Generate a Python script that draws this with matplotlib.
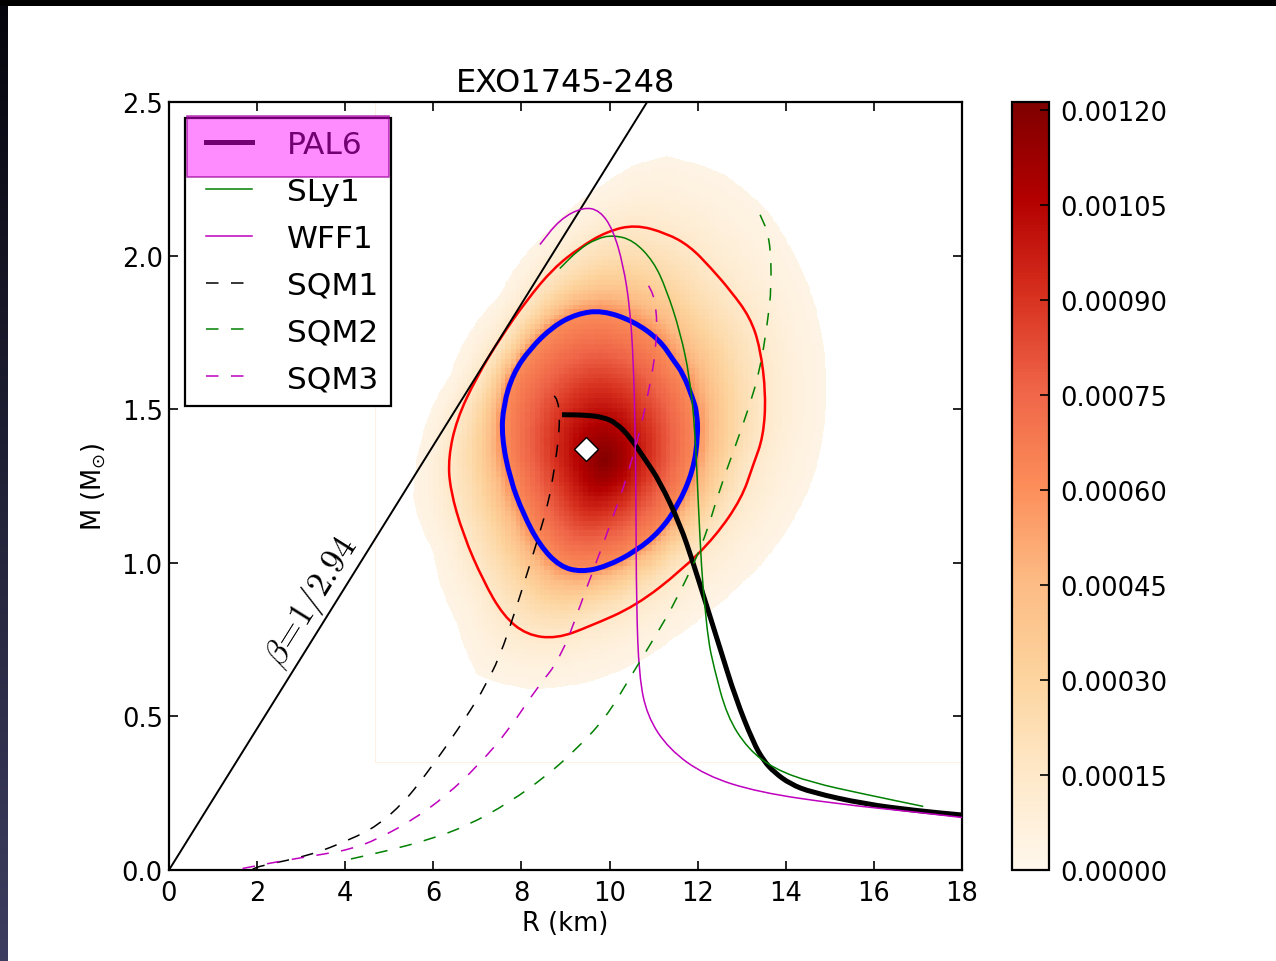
import numpy as np
import matplotlib
matplotlib.use("Agg")
import matplotlib.pyplot as plt
from matplotlib.patches import Rectangle, PathPatch
from matplotlib.path import Path
from matplotlib.legend_handler import HandlerLine2D
from matplotlib.ticker import FormatStrFormatter

plt.rcParams['font.family'] = ['DejaVu Sans']
plt.rcParams['lines.scale_dashes'] = False

# ---------------- data ----------------
TITLE = "EXO1745-248"
X_TICKS = [0, 2, 4, 6, 8, 10, 12, 14, 16, 18]
Y_TICKS = [0.0, 0.5, 1.0, 1.5, 2.0, 2.5]
CBAR_TICKS = [0.0, 0.00015, 0.00030, 0.00045, 0.00060, 0.00075, 0.00090, 0.00105, 0.00120]
CBAR_MAX = 0.001213

# EOS mass-radius curves (R in km, M in Msun)
PAL6_R = [8.92, 9.45, 9.86, 10.15, 10.46, 10.8, 11.14, 11.6, 11.9, 12.2, 12.52, 12.86, 13.26, 13.5, 13.74, 14.1, 14.58, 15.78, 16.98, 18.0]
PAL6_M = [1.482, 1.481, 1.474, 1.455, 1.41, 1.338, 1.265, 1.125, 0.999, 0.862, 0.716, 0.56, 0.416, 0.355, 0.318, 0.28, 0.253, 0.215, 0.193, 0.179]

SLY1_R = [8.87, 9.3, 9.7, 10.08, 10.54, 11.0, 11.29, 11.6, 11.82, 11.94, 12.01, 12.09, 12.15, 12.24, 12.36, 12.66, 13.14, 13.74, 14.58, 15.78, 17.12]
SLY1_M = [1.958, 2.02, 2.055, 2.067, 2.05, 1.981, 1.89, 1.753, 1.605, 1.433, 1.205, 0.976, 0.88, 0.748, 0.665, 0.502, 0.394, 0.329, 0.285, 0.247, 0.207]

WFF1_R = [8.42, 8.87, 9.4, 9.78, 10.08, 10.31, 10.46, 10.54, 10.58, 10.6, 10.61, 10.67, 10.85, 11.34, 12.18, 13.38, 15.18, 16.98, 18.0]
WFF1_M = [2.036, 2.118, 2.158, 2.147, 2.084, 1.97, 1.833, 1.662, 1.433, 1.205, 0.862, 0.632, 0.502, 0.394, 0.307, 0.253, 0.215, 0.188, 0.171]

SQM1_R = [1.9, 2.09, 3.17, 4.13, 4.73, 5.33, 5.81, 6.41, 7.01, 7.17, 7.49, 7.9, 8.4, 8.62, 8.74, 8.84, 8.87, 8.82, 8.72]
SQM1_M = [0.003, 0.014, 0.046, 0.10, 0.144, 0.22, 0.307, 0.426, 0.557, 0.60, 0.687, 0.86, 1.09, 1.2, 1.3, 1.4, 1.48, 1.53, 1.547]

SQM2_R = [4.13, 4.97, 5.93, 6.77, 7.73, 8.57, 9.17, 9.9, 10.49, 11.09, 11.5, 12.12, 12.5, 12.83, 13.15, 13.41, 13.58, 13.68, 13.64, 13.41]
SQM2_M = [0.036, 0.063, 0.10, 0.144, 0.22, 0.307, 0.383, 0.492, 0.632, 0.773, 0.875, 1.06, 1.239, 1.37, 1.50, 1.624, 1.776, 1.9, 2.061, 2.135]

SQM3_R = [1.67, 2.57, 3.53, 4.13, 4.73, 5.57, 6.29, 7.01, 7.73, 8.33, 8.9, 9.48, 10.08, 10.54, 10.88, 11.07, 11.07, 10.92, 10.69]
SQM3_M = [0.005, 0.03, 0.052, 0.068, 0.10, 0.166, 0.242, 0.339, 0.459, 0.589, 0.69, 0.919, 1.148, 1.342, 1.547, 1.707, 1.833, 1.901, 1.93]

# confidence contours (closed curves)
BLUE_R = [9.82, 10.54, 11.14, 11.45, 11.67, 11.9, 11.98, 12.01, 11.9, 11.55, 11.14, 10.6, 9.93, 9.36, 8.87, 8.42, 8.04, 7.74, 7.55, 7.59, 7.81, 8.19, 8.72, 9.25]
BLUE_M = [1.822, 1.787, 1.725, 1.659, 1.616, 1.531, 1.49, 1.415, 1.30, 1.185, 1.102, 1.038, 0.988, 0.970, 0.988, 1.056, 1.159, 1.273, 1.410, 1.513, 1.616, 1.696, 1.770, 1.810]

RED_R = [9.93, 10.58, 11.29, 11.82, 12.3, 12.75, 13.19, 13.42, 13.55, 13.49, 13.26, 13.0, 12.4, 11.63, 10.6, 9.55, 8.80, 8.12, 7.59, 7.13, 6.68, 6.38, 6.34, 6.53, 6.98, 7.51, 8.12, 8.72, 9.33]
RED_M = [2.078, 2.101, 2.073, 2.031, 1.96, 1.885, 1.799, 1.70, 1.547, 1.41, 1.319, 1.21, 1.085, 0.975, 0.86, 0.793, 0.753, 0.765, 0.827, 0.942, 1.090, 1.239, 1.342, 1.467, 1.604, 1.730, 1.855, 1.958, 2.027]

# outer edge of the probability map
OUTER_R = [10.54, 11.30, 12.58, 13.56, 14.17, 14.62, 14.85, 14.92, 14.85, 14.62, 14.25, 13.72, 12.96, 12.2, 11.45, 10.5, 9.17, 8.15, 7.01, 6.53, 6.00, 5.55, 5.70, 6.38, 7.51, 8.65, 9.78]
OUTER_M = [2.29, 2.321, 2.263, 2.147, 2.007, 1.856, 1.705, 1.566, 1.426, 1.275, 1.159, 1.042, 0.926, 0.833, 0.752, 0.665, 0.60, 0.587, 0.632, 0.805, 1.034, 1.204, 1.377, 1.605, 1.867, 2.084, 2.221]

# probability density levels (peak, at blue contour, at red contour, at outer edge)
DENS_CENTER = (9.9, 1.33)
DENS_PEAK = 0.00119
DENS_BLUE = 0.00060
DENS_RED = 0.00014
DENS_OUTER = 0.00003
MAP_R0, MAP_M0 = 4.68, 0.35          # lower-left corner of the histogram map
CELL_R, CELL_M = 0.11, 0.016         # histogram cell size

BEST_R, BEST_M = 9.46, 1.37
BETA = 1 / 2.94
GM_C2 = 1.4766  # km per solar mass
BETA_R = [0.0, 12.0]

# ---------------- density map built from the read contours ----------------
K = 307.2 / 44.06  # screen aspect (M scale relative to R scale)


def polar(Rs, Ms):
    u = np.asarray(Rs, float) - DENS_CENTER[0]
    v = (np.asarray(Ms, float) - DENS_CENTER[1]) * K
    return np.arctan2(v, u), np.hypot(u, v)


def radius_of(Rs, Ms):
    th, r = polar(Rs, Ms)
    o = np.argsort(th)
    th, r = th[o], r[o]
    return lambda t: np.interp(t, th, r, period=2 * np.pi)


rb, rr, ro = radius_of(BLUE_R, BLUE_M), radius_of(RED_R, RED_M), radius_of(OUTER_R, OUTER_M)


def density(Rg, Mg):
    th, r = polar(Rg, Mg)
    r1, r2, r3 = rb(th), rr(th), ro(th)
    f = np.full(r.shape, np.nan)
    a = r <= r1
    f[a] = DENS_PEAK * (DENS_BLUE / DENS_PEAK) ** ((r[a] / r1[a]) ** 1.3)
    b = (r > r1) & (r <= r2)
    f[b] = DENS_BLUE * (DENS_RED / DENS_BLUE) ** ((r[b] - r1[b]) / (r2[b] - r1[b]))
    c = (r > r2) & (r <= r3)
    f[c] = DENS_RED * (DENS_OUTER / DENS_RED) ** ((r[c] - r2[c]) / (r3[c] - r2[c]))
    return f


fr_step, fm_step = 0.02, 0.003
Rf = MAP_R0 + (np.arange(int((18.2 - MAP_R0) / fr_step)) + 0.5) * fr_step
Mf = MAP_M0 + (np.arange(int((2.6 - MAP_M0) / fm_step)) + 0.5) * fm_step
RG, MG = np.meshgrid(Rf, Mf)
RS = MAP_R0 + (np.floor((RG - MAP_R0) / CELL_R) + 0.5) * CELL_R
MS = MAP_M0 + (np.floor((MG - MAP_M0) / CELL_M) + 0.5) * CELL_M
smooth = density(RG, MG)
img = density(RS, MS)
img = np.where(np.isnan(img), smooth, img)
img[np.isnan(smooth)] = np.nan


def smooth_path(xs, ys, closed=False):
    """Quadratic B-spline path with the read points as control points."""
    P = np.column_stack([xs, ys]).astype(float)
    if closed:
        mids = (P + np.roll(P, -1, axis=0)) / 2
        verts, codes = [mids[-1]], [Path.MOVETO]
        for i in range(len(P)):
            verts += [P[i], mids[i]]
            codes += [Path.CURVE3, Path.CURVE3]
    else:
        mids = (P[:-1] + P[1:]) / 2
        verts, codes = [P[0], mids[0]], [Path.MOVETO, Path.LINETO]
        for i in range(1, len(P) - 1):
            verts += [P[i], mids[i]]
            codes += [Path.CURVE3, Path.CURVE3]
        verts.append(P[-1])
        codes.append(Path.LINETO)
    return Path(np.array(verts), codes)


def draw_curve(ax, xs, ys, closed=False, label=None, **kw):
    ax.add_patch(PathPatch(smooth_path(xs, ys, closed), fill=False, capstyle='butt', **kw))
    if label is not None:
        ax.plot([], [], color=kw.get('edgecolor'), lw=kw.get('lw'),
                ls=kw.get('linestyle', '-'), label=label)


# ---------------- figure ----------------
W, H = 1276, 962
fig = plt.figure(figsize=(W / 100, H / 100), dpi=100)
ax = fig.add_axes([169 / W, 91 / H, 793 / W, 768 / H])
cax = fig.add_axes([1012 / W, 91 / H, 37 / W, 768 / H])

im = ax.imshow(img, origin='lower', cmap='OrRd', vmin=0, vmax=CBAR_MAX,
               extent=[MAP_R0, MAP_R0 + len(Rf) * fr_step, MAP_M0, MAP_M0 + len(Mf) * fm_step],
               aspect='auto', interpolation='nearest', zorder=0)
ax.add_patch(Rectangle((MAP_R0, MAP_M0), 20, 3, fill=False, ec='#fdf0e6', lw=0.8, zorder=0.5))

draw_curve(ax, BLUE_R, BLUE_M, closed=True, edgecolor='#0000ff', lw=3.6, zorder=3)
draw_curve(ax, RED_R, RED_M, closed=True, edgecolor='#ff0000', lw=1.8, zorder=3)

beta_M = np.array(BETA_R) * BETA / GM_C2
ax.plot(BETA_R, beta_M, color='black', lw=1.4, zorder=3)
ax.text(3.24, 0.875, r'$\beta\!=\!1/2.94$', math_fontfamily='cm', fontsize=25,
        rotation=58, rotation_mode='anchor', ha='center', va='center', zorder=4)

dash = (0, (9, 9))
draw_curve(ax, PAL6_R, PAL6_M, edgecolor='black', lw=3.6, label='PAL6', zorder=4)
draw_curve(ax, SLY1_R, SLY1_M, edgecolor='#008000', lw=1.1, label='SLy1', zorder=4)
draw_curve(ax, WFF1_R, WFF1_M, edgecolor='#bf00bf', lw=1.1, label='WFF1', zorder=4)
draw_curve(ax, SQM1_R, SQM1_M, edgecolor='black', lw=1.1, linestyle=dash, label='SQM1', zorder=4)
draw_curve(ax, SQM2_R, SQM2_M, edgecolor='#008000', lw=1.1, linestyle=dash, label='SQM2', zorder=4)
draw_curve(ax, SQM3_R, SQM3_M, edgecolor='#bf00bf', lw=1.1, linestyle=dash, label='SQM3', zorder=4)

ax.plot([BEST_R], [BEST_M], 'D', ms=12, mfc='white', mec='black', mew=1.0, zorder=5)

ax.set_xlim(0, 18)
ax.set_ylim(0, 2.5)
ax.set_xticks(X_TICKS)
ax.set_yticks(Y_TICKS)
ax.yaxis.set_major_formatter(FormatStrFormatter('%.1f'))
ax.tick_params(direction='in', length=6.4, width=1.2, top=True, right=True,
               labelsize=18.5, pad=4.5)
ax.tick_params(axis='x', pad=7)
for s in ax.spines.values():
    s.set_linewidth(1.6)
ax.set_xlabel('R (km)', fontsize=18.5, labelpad=3)
ax.set_ylabel(r'M (M$_{\odot}$)', fontsize=18.5, labelpad=10)
ax.set_title(TITLE, fontsize=23, pad=8)

leg = ax.legend(loc='upper left', fontsize=22.5, frameon=True, fancybox=False,
                borderaxespad=0.5, borderpad=0.4, labelspacing=0.57,
                handlelength=1.77, handletextpad=1.1,
                handler_map={matplotlib.lines.Line2D: HandlerLine2D(xpad=0.27)})
leg.get_frame().set_edgecolor('black')
leg.get_frame().set_linewidth(1.6)
leg.get_frame().set_alpha(1)

cb = fig.colorbar(im, cax=cax, ticks=CBAR_TICKS)
cb.ax.yaxis.set_major_formatter(FormatStrFormatter('%.5f'))
cb.ax.tick_params(direction='in', length=6.4, width=1.2, labelsize=18.5, pad=8)
cb.outline.set_linewidth(1.6)

# magenta highlight over the PAL6 legend entry
fig.add_artist(Rectangle((187 / W, 1 - 178 / H), 202 / W, 61 / H, transform=fig.transFigure,
                         facecolor=(1, 0, 1, 0.45), edgecolor=(0.6, 0, 0.6, 0.7), lw=1.2, zorder=20))

# dark slide border (top and left)
t = np.linspace(0, 1, H)[:, None]
left = np.concatenate([0.02 + 0.22 * t, 0.02 + 0.22 * t, 0.05 + 0.33 * t], axis=1)
left_band = np.repeat(left[:, None, :], 8, axis=1)
fig.figimage(left_band, xo=0, yo=0, zorder=30)
fig.figimage(np.zeros((7, W, 3)), xo=0, yo=H - 7, zorder=31)

fig.savefig('out.png', dpi=100)
